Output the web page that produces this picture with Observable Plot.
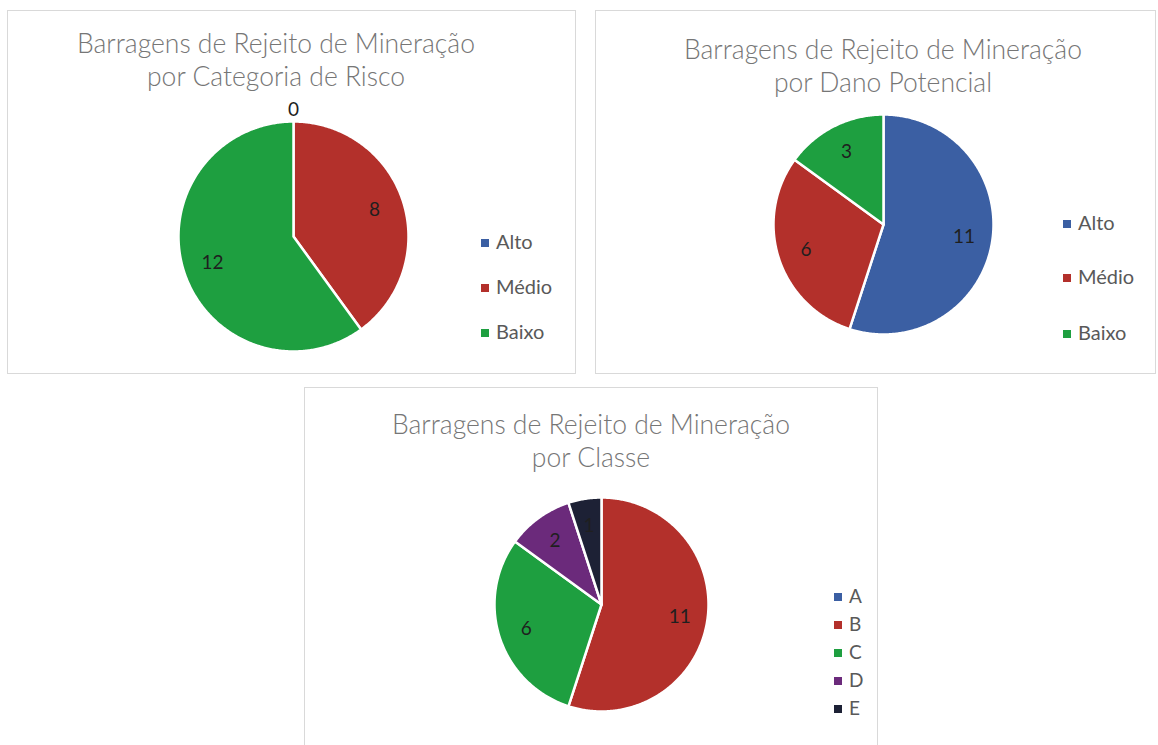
<!DOCTYPE html>
<html><head><meta charset="utf-8">
<script src="https://cdn.jsdelivr.net/npm/d3@7"></script>
<script src="https://cdn.jsdelivr.net/npm/@observablehq/plot@0.6"></script>
<style>
body{margin:0;background:#fff;font-family:Lato, "Open Sans", sans-serif;}
#page{position:relative;width:1158px;height:745px;overflow:hidden;background:#fff;}
.box{position:absolute;border:1.5px solid #d9d9d9;box-sizing:border-box;background:#fff;}
.box svg{position:absolute;left:0;top:0;}
.title{position:absolute;color:#767676;font-size:26.5px;font-weight:300;line-height:33px;text-align:center;white-space:nowrap;transform:translateX(-50%);}
.leg{position:absolute;color:#595959;white-space:nowrap;line-height:20px;}
.sw{display:inline-block;width:8px;height:8px;margin-right:7px;vertical-align:middle;position:relative;top:-1px;}
</style></head>
<body><div id="page"></div>
<script>
// ---- data ----
const riscoCategorias = ["Alto", "Médio", "Baixo"];
const riscoValores = [0, 8, 12];
const danoCategorias = ["Alto", "Médio", "Baixo"];
const danoValores = [11, 6, 3];
const classeCategorias = ["A", "B", "C", "D", "E"];
const classeValores = [0, 11, 6, 2, 1];
const titulos = [
  ["Barragens de Rejeito de Mineração", "por Categoria de Risco"],
  ["Barragens de Rejeito de Mineração", "por Dano Potencial"],
  ["Barragens de Rejeito de Mineração", "por Classe"]
];
const coresRisco = ["#3b5fa3", "#b3302b", "#1e9f40"];
const coresClasse = ["#3b5fa3", "#b3302b", "#1e9f40", "#6b2a7b", "#1d2135"];

// ---- layout ----
const charts = [
  {cats: riscoCategorias, vals: riscoValores, colors: coresRisco, title: titulos[0], showZero: true,
   box: {left: 7, top: 10, w: 569, h: 364}, cx: 285, cy: 225, r: 115,
   titleX: 268, titleTop: 16, leg: {x: 473, ys: [230, 275, 320], fs: 20}},
  {cats: danoCategorias, vals: danoValores, colors: coresRisco, title: titulos[1], showZero: true,
   box: {left: 595, top: 10, w: 561, h: 364}, cx: 287, cy: 213, r: 110,
   titleX: 287, titleTop: 22, leg: {x: 467, ys: [211, 265, 321], fs: 20}},
  {cats: classeCategorias, vals: classeValores, colors: coresClasse, title: titulos[2], showZero: false,
   box: {left: 304, top: 387, w: 574, h: 365}, cx: 296, cy: 216, r: 107,
   titleX: 286, titleTop: 20, leg: {x: 529, ys: [208, 236, 264, 292, 320], fs: 19}}
];

const page = document.getElementById("page");

for (const c of charts) {
  const box = document.createElement("div");
  box.className = "box";
  Object.assign(box.style, {left: c.box.left + "px", top: c.box.top + "px", width: c.box.w + "px", height: c.box.h + "px"});
  page.appendChild(box);

  const data = c.cats.map((cat, i) => ({cat, value: c.vals[i]}));
  const arcs = d3.pie().sort(null).value(d => d.value).startAngle(0).endAngle(2 * Math.PI)(data);

  // slice outlines in unit coordinates (angle clockwise from top)
  const pts = [];
  const labels = [];
  for (const a of arcs) {
    const mid = (a.startAngle + a.endAngle) / 2;
    if (a.data.value > 0) {
      pts.push({cat: a.data.cat, x: 0, y: 0});
      const n = Math.max(2, Math.ceil((a.endAngle - a.startAngle) / 0.01));
      for (let k = 0; k <= n; k++) {
        const t = a.startAngle + (a.endAngle - a.startAngle) * k / n;
        pts.push({cat: a.data.cat, x: Math.sin(t), y: Math.cos(t)});
      }
      labels.push({text: String(a.data.value), x: 0.74 * Math.sin(mid), y: 0.74 * Math.cos(mid)});
    } else if (c.showZero) {
      labels.push({text: "0", x: 1.1 * Math.sin(mid), y: 1.1 * Math.cos(mid)});
    }
  }

  const svg = Plot.plot({
    width: c.box.w - 3,
    height: c.box.h - 3,
    margin: 0,
    x: {domain: [-1, 1], range: [c.cx - c.r, c.cx + c.r], axis: null},
    y: {domain: [-1, 1], range: [c.cy + c.r, c.cy - c.r], axis: null},
    color: {domain: c.cats, range: c.colors},
    style: {fontFamily: "Lato, sans-serif", background: "transparent"},
    marks: [
      Plot.line(pts, {x: "x", y: "y", z: "cat", fill: "cat", stroke: "white", strokeWidth: 2.5, curve: "linear-closed", strokeLinejoin: "round"}),
      Plot.text(labels, {x: "x", y: "y", text: "text", fontSize: 19, fill: "#1f1f1f"})
    ]
  });
  box.appendChild(svg);

  const t = document.createElement("div");
  t.className = "title";
  t.style.left = c.titleX + "px";
  t.style.top = c.titleTop + "px";
  t.innerHTML = c.title.join("<br>");
  box.appendChild(t);

  c.cats.forEach((cat, i) => {
    const row = document.createElement("div");
    row.className = "leg";
    row.style.left = c.leg.x + "px";
    row.style.top = (c.leg.ys[i] - 10) + "px";
    row.style.fontSize = c.leg.fs + "px";
    row.innerHTML = `<span class="sw" style="background:${c.colors[i]}"></span>${cat}`;
    box.appendChild(row);
  });
}
</script>
</body></html>
